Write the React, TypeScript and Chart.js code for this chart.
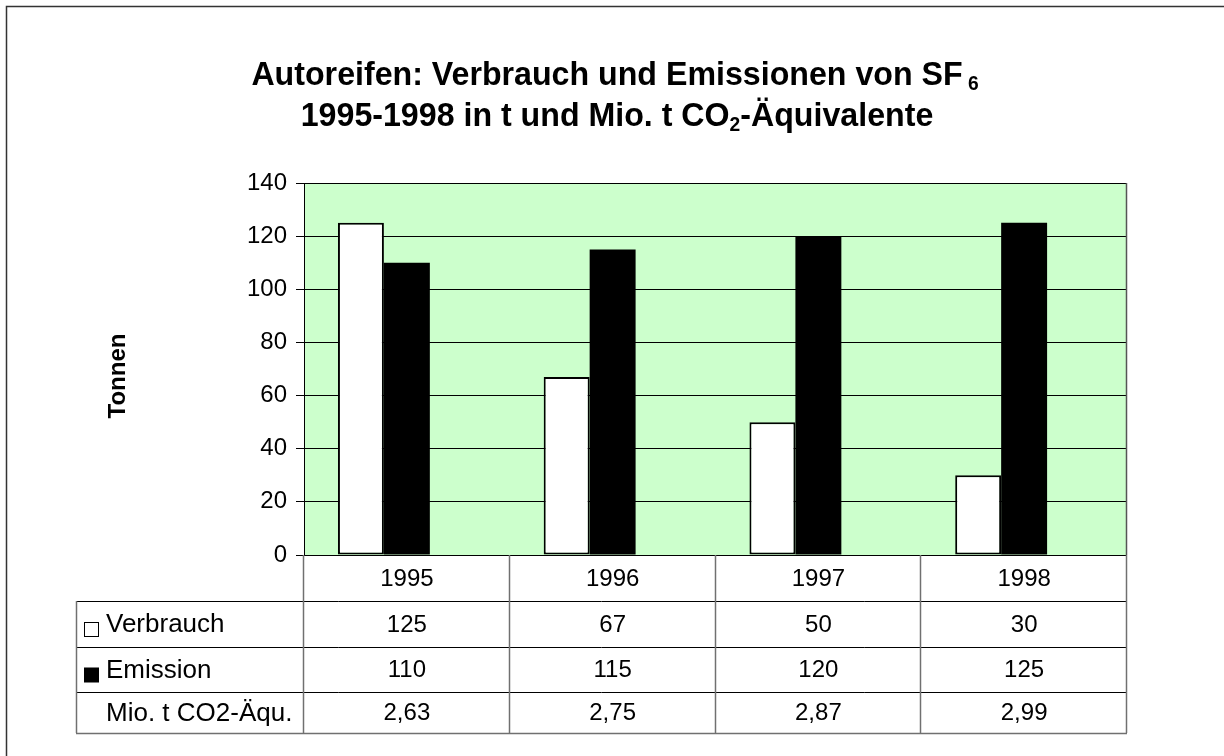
import React, { useEffect, useRef } from "react";
import { Chart, registerables } from "chart.js";

Chart.register(...registerables);

// ---------- data ----------
const years = ["1995", "1996", "1997", "1998"];
const verbrauch = [125, 67, 50, 30];
const emission = [110, 115, 120, 125];
const co2Aequ = [2.63, 2.75, 2.87, 2.99];
const seriesNames = ["Verbrauch", "Emission", "Mio. t CO2-Äqu."];
const yMin = 0;
const yMax = 140;
const yStep = 20;
const yAxisTitle = "Tonnen";
const titleLine1 = ["Autoreifen: Verbrauch und Emissionen von SF", " 6", ""];
const titleLine2 = ["1995-1998 in t und Mio. t CO", "2", "-Äquivalente"];

const FONT = "'Liberation Sans', Arial, Helvetica, sans-serif";
const GREEN = "#CCFFCC";

function fmtComma(v: number) {
  return v.toFixed(2).replace(".", ",");
}

function drawTitleLine(
  ctx: CanvasRenderingContext2D,
  parts: string[],
  cx: number,
  baseline: number,
  size: number,
  subSize: number,
  subDy: number,
  sx: number
) {
  const big = `bold ${size}px ${FONT}`;
  const small = `bold ${subSize}px ${FONT}`;
  ctx.font = big;
  const w0 = ctx.measureText(parts[0]).width;
  const w2 = ctx.measureText(parts[2]).width;
  ctx.font = small;
  const w1 = ctx.measureText(parts[1]).width;
  const total = w0 + w1 + w2;
  ctx.save();
  ctx.translate(cx, baseline);
  ctx.scale(sx, 1);
  let x = -total / 2;
  ctx.textAlign = "left";
  ctx.textBaseline = "alphabetic";
  ctx.fillStyle = "#000";
  ctx.font = big;
  ctx.fillText(parts[0], x, 0);
  x += w0;
  ctx.font = small;
  ctx.fillText(parts[1], x, subDy);
  x += w1;
  ctx.font = big;
  ctx.fillText(parts[2], x, 0);
  ctx.restore();
}

const decorPlugin = {
  id: "decor",
  beforeDraw(chart: any) {
    const { ctx, chartArea: ca } = chart;
    ctx.save();
    ctx.fillStyle = "#fff";
    ctx.fillRect(0, 0, chart.width, chart.height);
    ctx.fillStyle = GREEN;
    ctx.fillRect(ca.left, ca.top, ca.right - ca.left, ca.bottom - ca.top);
    ctx.restore();
  },
  afterDraw(chart: any) {
    const { ctx, chartArea: ca } = chart;
    const xs = chart.scales.x;
    ctx.save();

    // outer frame (left + top visible)
    ctx.strokeStyle = "#333";
    ctx.lineWidth = 1.5;
    ctx.beginPath();
    ctx.moveTo(6.5, chart.height + 2);
    ctx.lineTo(6.5, 6.5);
    ctx.lineTo(chart.width + 2, 6.5);
    ctx.stroke();

    // titles
    drawTitleLine(ctx, titleLine1, 615, 85, 33.5, 20, 5, 0.96);
    drawTitleLine(ctx, titleLine2, 617, 126, 33.5, 20, 5, 0.96);

    // y axis title
    ctx.save();
    ctx.translate(118, 376);
    ctx.rotate(-Math.PI / 2);
    ctx.font = `bold 24px ${FONT}`;
    ctx.textAlign = "center";
    ctx.textBaseline = "middle";
    ctx.fillStyle = "#000";
    ctx.fillText(yAxisTitle, 0, 0);
    ctx.restore();

    // right border of plot area
    ctx.strokeStyle = "#555";
    ctx.lineWidth = 1.5;
    ctx.beginPath();
    ctx.moveTo(ca.right - 0.5, ca.top);
    ctx.lineTo(ca.right - 0.5, ca.bottom);
    ctx.stroke();

    // ---------- data table ----------
    const n = years.length;
    const cw = (ca.right - ca.left) / n;
    const rowOff = [0, 46, 92, 137, 178];
    const rowY = rowOff.map((o) => ca.bottom + o);
    const leftX = 76;

    // horizontal lines
    ctx.lineWidth = 1;
    ctx.strokeStyle = "#000";
    for (let r = 1; r <= 3; r++) {
      ctx.beginPath();
      ctx.moveTo(leftX, Math.round(rowY[r]) + 0.5);
      ctx.lineTo(ca.right, Math.round(rowY[r]) + 0.5);
      ctx.stroke();
    }
    ctx.strokeStyle = "#707070";
    ctx.lineWidth = 1.5;
    ctx.beginPath();
    ctx.moveTo(leftX, Math.round(rowY[4]) + 0.5);
    ctx.lineTo(ca.right, Math.round(rowY[4]) + 0.5);
    ctx.stroke();

    // vertical lines
    ctx.strokeStyle = "#707070";
    ctx.lineWidth = 1.5;
    ctx.beginPath();
    ctx.moveTo(leftX + 0.5, rowY[1]);
    ctx.lineTo(leftX + 0.5, rowY[4]);
    ctx.stroke();
    for (let i = 0; i <= n; i++) {
      const x = Math.round(xs.getPixelForValue(Math.min(i, n - 1)) + (i === n ? cw / 2 : -cw / 2));
      ctx.beginPath();
      ctx.moveTo(x - 0.5, rowY[0]);
      ctx.lineTo(x - 0.5, rowY[4]);
      ctx.stroke();
    }

    // texts
    ctx.fillStyle = "#000";
    ctx.font = `24px ${FONT}`;
    ctx.textBaseline = "middle";
    ctx.textAlign = "center";
    const rowC = (r: number) => (rowY[r] + rowY[r + 1]) / 2 + 1;
    years.forEach((y, i) => {
      const cx = xs.getPixelForValue(i);
      ctx.fillText(y, cx, rowC(0));
      ctx.fillText(String(verbrauch[i]), cx, rowC(1));
      ctx.fillText(String(emission[i]), cx, rowC(2));
      ctx.fillText(fmtComma(co2Aequ[i]), cx, rowC(3));
    });

    // row headers with legend keys
    ctx.textAlign = "left";
    const keyX = 84;
    const keyS = 15;
    // Verbrauch key (white)
    ctx.fillStyle = "#fff";
    ctx.fillRect(keyX, rowC(1) - 3, keyS, keyS);
    ctx.strokeStyle = "#000";
    ctx.lineWidth = 1;
    ctx.strokeRect(keyX + 0.5, rowC(1) - 2.5, keyS - 1, keyS - 1);
    // Emission key (black)
    ctx.fillStyle = "#000";
    ctx.fillRect(keyX, rowC(2) - 3, keyS, keyS);

    ctx.fillStyle = "#000";
    ctx.font = `26px ${FONT}`;
    ctx.fillText(seriesNames[0], 106, rowC(1));
    ctx.fillText(seriesNames[1], 106, rowC(2));
    ctx.fillText(seriesNames[2], 106, rowC(3));

    ctx.restore();
  },
};

export default function App() {
  const ref = useRef<HTMLCanvasElement | null>(null);

  useEffect(() => {
    document.body.style.margin = "0";
    const canvas = ref.current;
    if (!canvas) return;
    const chart = new Chart(canvas, {
      type: "bar",
      data: {
        labels: years,
        datasets: [
          {
            label: seriesNames[0],
            data: verbrauch,
            backgroundColor: "#ffffff",
            borderColor: "#000000",
            borderWidth: 2,
            borderSkipped: false,
          },
          {
            label: seriesNames[1],
            data: emission,
            backgroundColor: "#000000",
            borderColor: "#000000",
            borderWidth: 0,
          },
          {
            label: seriesNames[2],
            data: co2Aequ,
            backgroundColor: "rgba(0,0,0,0)",
            borderWidth: 0,
          },
        ],
      },
      options: {
        responsive: false,
        animation: false,
        devicePixelRatio: 1,
        layout: { padding: { left: 0, top: 183, right: 97, bottom: 201 } },
        plugins: {
          legend: { display: false },
          title: { display: false },
          tooltip: { enabled: false },
        },
        datasets: {
          bar: { categoryPercentage: 0.67, barPercentage: 1 },
        },
        scales: {
          x: {
            display: false,
            offset: true,
            grid: { display: false },
          },
          y: {
            min: yMin,
            max: yMax,
            afterFit: (scale: any) => {
              scale.width = 304;
            },
            ticks: {
              stepSize: yStep,
              color: "#000",
              padding: 9,
              font: { family: FONT, size: 24 },
            },
            grid: {
              color: "#000",
              lineWidth: 1,
              tickLength: 8,
              drawTicks: true,
            },
            border: { display: true, color: "#000", width: 1 },
          },
        },
      },
      plugins: [decorPlugin],
    });
    return () => chart.destroy();
  }, []);

  return (
    <div style={{ width: 1224, height: 756, overflow: "hidden" }}>
      <canvas ref={ref} width={1224} height={756} style={{ display: "block" }} />
    </div>
  );
}
